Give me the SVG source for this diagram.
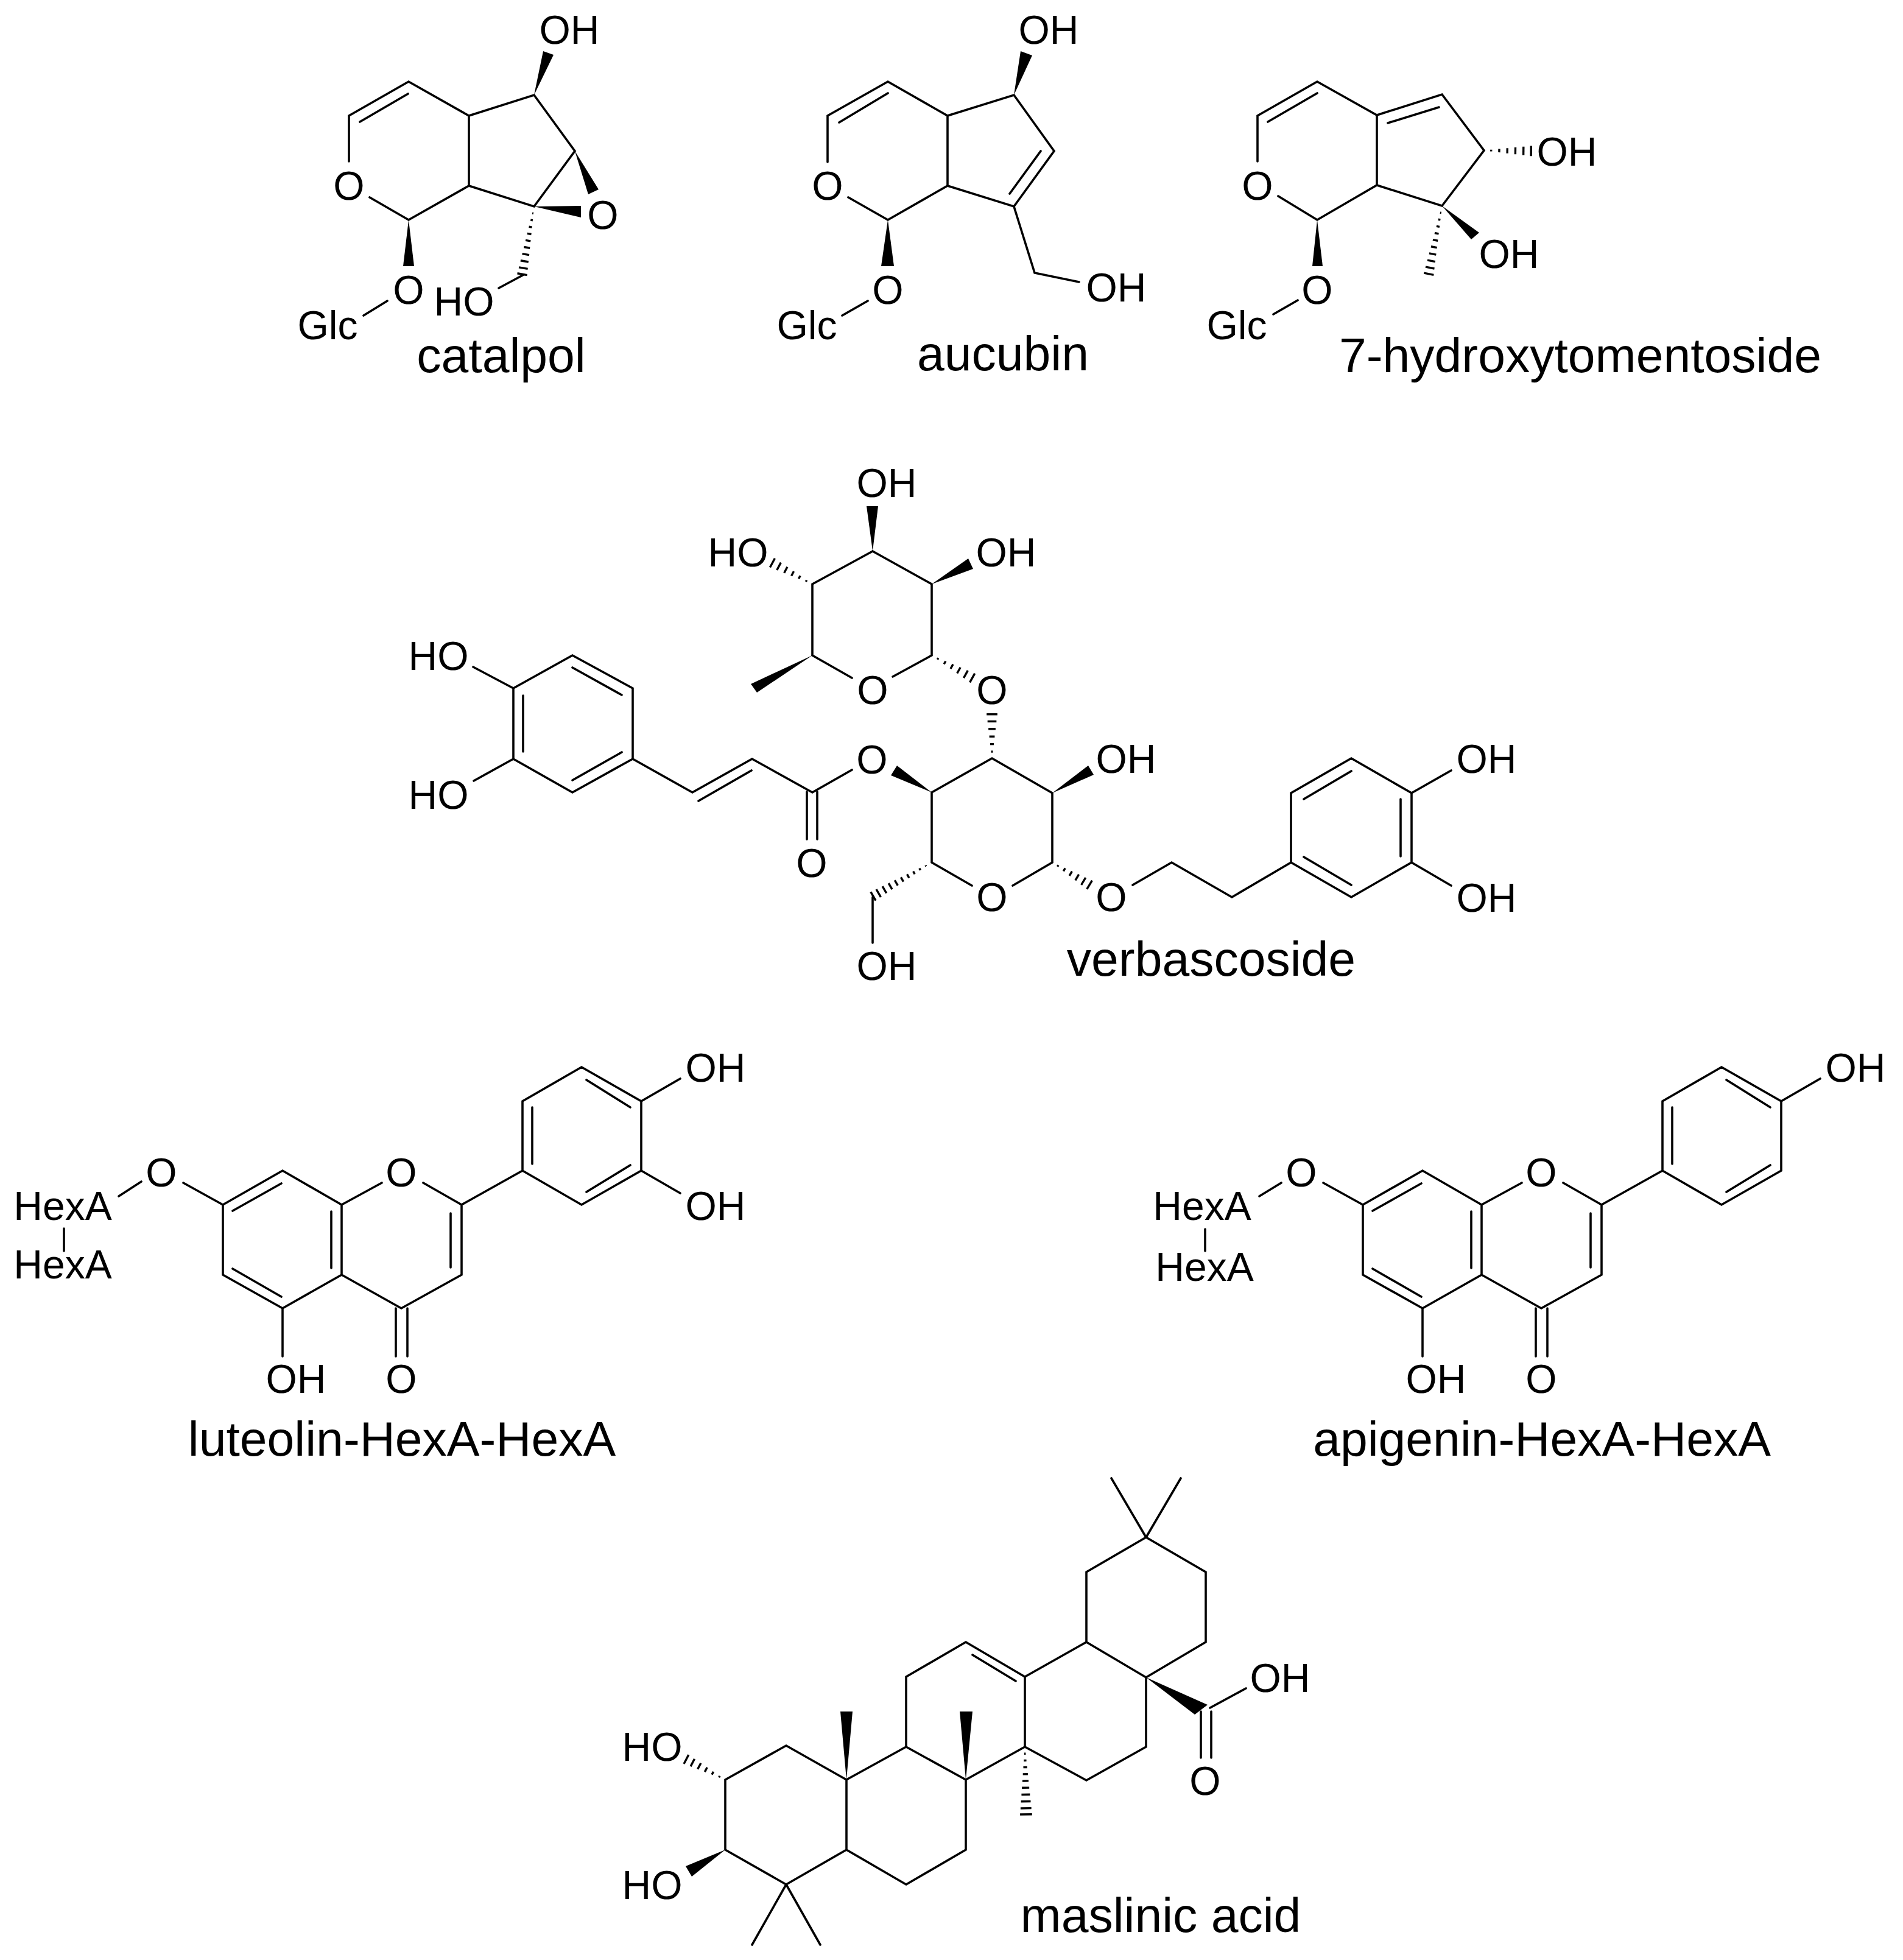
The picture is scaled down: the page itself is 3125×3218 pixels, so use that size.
<svg xmlns="http://www.w3.org/2000/svg" width="3125" height="3218" viewBox="0 0 3125 3218">
<style>
text{font-family:"Liberation Sans",Arial,sans-serif;fill:#000;text-anchor:middle}
.a{font-size:66px}
.n{font-size:80.5px}
.b{fill:none;stroke:#000;stroke-width:3.6;stroke-linecap:round;stroke-linejoin:miter}
.w{fill:#000;stroke:none}
.h line{stroke:#000;stroke-width:3.4;vector-effect:non-scaling-stroke}
</style>
<defs>
<g id="hashL" class="h">
<line x1="10" y1="-1" x2="10" y2="1"/><line x1="20" y1="-1.8" x2="20" y2="1.8"/><line x1="30" y1="-2.6" x2="30" y2="2.6"/><line x1="40" y1="-3.4" x2="40" y2="3.4"/><line x1="50" y1="-4.2" x2="50" y2="4.2"/><line x1="60" y1="-5" x2="60" y2="5"/><line x1="70" y1="-5.8" x2="70" y2="5.8"/><line x1="80" y1="-6.6" x2="80" y2="6.6"/><line x1="90" y1="-7.4" x2="90" y2="7.4"/><line x1="99" y1="-8.2" x2="99" y2="8.2"/>
</g>
<g id="hashS" class="h">
<line x1="15" y1="-1.4" x2="15" y2="1.4"/><line x1="32" y1="-2.8" x2="32" y2="2.8"/><line x1="49" y1="-4.2" x2="49" y2="4.2"/><line x1="66" y1="-5.6" x2="66" y2="5.6"/><line x1="83" y1="-7" x2="83" y2="7"/><line x1="99" y1="-8.4" x2="99" y2="8.4"/>
</g>
<path id="flavone" class="b" d="M366 1978L464 1922L561 1978L561 2093L464 2148L366 2093ZM561 2093L659 2148L758 2093L758 1978L858 1922L858 1808L955 1752L1053 1808L1053 1922L955 1978L858 1922M561 1978L627 1942M695 1942L758 1978M301 1942L366 1978M382 1988L462 1943M544 1989L544 2082M382 2083L462 2129M740 1992L740 2081M874 1818L874 1911M963 1773L1035 1818M963 1957L1035 1913M464 2148L464 2227M650 2148L650 2227M669 2148L669 2227"/>
</defs>

<g id="catalpol">
<path class="b" d="M573 265L573 190L671 134L770 190L877 156L944 248L877 339L770 305L671 361L607 324M770 190L770 305M591 200L670 154M597 518L636 494M860 451L819 473"/>
<polygon class="w" points="877,156 892,84 909,90"/>
<polygon class="w" points="944,248 966,319 983,311"/>
<polygon class="w" points="877,339 954,338 954,357"/>
<polygon class="w" points="671,361 662,437 680,437"/>
<use href="#hashL" transform="translate(877 339) rotate(99.9) scale(1.14 1)"/>
<text class="a" x="935" y="72">OH</text>
<text class="a" x="573" y="328">O</text>
<text class="a" x="990" y="376">O</text>
<text class="a" x="671" y="499">O</text>
<text class="a" x="762" y="518">HO</text>
<text class="a" x="538" y="557">Glc</text>
<text class="n" x="823" y="611">catalpol</text>
</g>

<g id="aucubin">
<path class="b" d="M1359 266L1359 190L1458 134L1556 190L1665 156L1731 248L1665 339L1556 305L1458 361L1393 324M1556 190L1556 305M1378 201L1458 153M1709 248L1658 318M1665 339L1699 448L1772 463M1383 518L1425 494"/>
<polygon class="w" points="1665,156 1676,84 1695,91"/>
<polygon class="w" points="1458,361 1447,437 1468,437"/>
<text class="a" x="1722" y="72">OH</text>
<text class="a" x="1359" y="328">O</text>
<text class="a" x="1458" y="499">O</text>
<text class="a" x="1833" y="495">OH</text>
<text class="a" x="1325" y="557">Glc</text>
<text class="n" x="1647" y="608">aucubin</text>
</g>

<g id="hydroxytomentoside">
<path class="b" d="M2065 265L2065 190L2163 134L2261 189L2368 155L2437 247L2368 338L2261 304L2163 361L2099 322M2261 189L2261 304M2082 200L2163 153M2279 202L2363 176M2091 516L2131 493"/>
<polygon class="w" points="2368,338 2416,393 2429,382"/>
<polygon class="w" points="2163,361 2155,437 2172,437"/>
<use href="#hashS" transform="translate(2437 247) rotate(0.7) scale(0.78 1)"/>
<use href="#hashL" transform="translate(2368 338) rotate(101) scale(1.15 1)"/>
<text class="a" x="2573" y="272">OH</text>
<text class="a" x="2478" y="440">OH</text>
<text class="a" x="2065" y="328">O</text>
<text class="a" x="2163" y="499">O</text>
<text class="a" x="2031" y="557">Glc</text>
<text class="n" x="2595" y="611">7-hydroxytomentoside</text>
</g>

<g id="verbascoside">
<path class="b" d="M1433 905L1530 959L1530 1076L1466 1111M1399 1113L1334 1076L1334 959L1433 905"/>
<path class="b" d="M843 1130L940 1076L1039 1130L1039 1246L940 1301L843 1246ZM843 1130L777 1095M843 1246L778 1282M940 1096L1021 1141M859 1142L859 1234M940 1281L1021 1235M1039 1246L1137 1301L1235 1246L1334 1301L1399 1264M1147 1315L1234 1265M1325 1300L1325 1378M1342 1300L1342 1378"/>
<path class="b" d="M1530 1301L1629 1245L1728 1302L1728 1416L1663 1454M1596 1454L1530 1416L1530 1301M1433 1473L1433 1548"/>
<path class="b" d="M1860 1453L1924 1416L2023 1473L2120 1416L2120 1302L2219 1245L2318 1302L2318 1416L2219 1473L2120 1416M2318 1302L2383 1265M2318 1416L2383 1454M2141 1312L2219 1266M2141 1407L2219 1453M2300 1312L2300 1406"/>
<polygon class="w" points="1433,905 1423,831 1442,831"/>
<polygon class="w" points="1530,959 1590,917 1598,934"/>
<polygon class="w" points="1334,1076 1233,1123 1243,1137"/>
<polygon class="w" points="1530,1301 1463,1273 1473,1257"/>
<polygon class="w" points="1728,1302 1787,1257 1796,1272"/>
<use href="#hashS" transform="translate(1334 959) rotate(-152) scale(0.75 1)"/>
<use href="#hashS" transform="translate(1530 1076) rotate(29) scale(0.77 1)"/>
<use href="#hashS" transform="translate(1629 1245) rotate(-90) scale(0.73 1.05)"/>
<use href="#hashL" transform="translate(1530 1416) rotate(150) scale(1.12 1)"/>
<use href="#hashS" transform="translate(1728 1416) rotate(31) scale(0.72 1)"/>
<text class="a" x="1456" y="816">OH</text>
<text class="a" x="1212" y="930">HO</text>
<text class="a" x="1652" y="930">OH</text>
<text class="a" x="1433" y="1156">O</text>
<text class="a" x="1629" y="1156">O</text>
<text class="a" x="720" y="1100">HO</text>
<text class="a" x="720" y="1328">HO</text>
<text class="a" x="1432" y="1270">O</text>
<text class="a" x="1849" y="1269">OH</text>
<text class="a" x="2441" y="1269">OH</text>
<text class="a" x="2441" y="1497">OH</text>
<text class="a" x="1333" y="1440">O</text>
<text class="a" x="1629" y="1496">O</text>
<text class="a" x="1825" y="1496">O</text>
<text class="a" x="1456" y="1609">OH</text>
<text class="n" x="1989" y="1602">verbascoside</text>
</g>

<g id="luteolin">
<use href="#flavone"/>
<path class="b" d="M1053 1808L1117 1771M1053 1922L1117 1959M195 1964L232 1940M105 2017L105 2054"/>
<text class="a" x="1175" y="1776">OH</text>
<text class="a" x="1175" y="2003">OH</text>
<text class="a" x="659" y="1948">O</text>
<text class="a" x="265" y="1948">O</text>
<text class="a" x="103" y="2003">HexA</text>
<text class="a" x="103" y="2099">HexA</text>
<text class="a" x="486" y="2287">OH</text>
<text class="a" x="659" y="2287">O</text>
<text class="n" x="660" y="2390">luteolin-HexA-HexA</text>
</g>

<g id="apigenin">
<use href="#flavone" transform="translate(1872 0)"/>
<path class="b" d="M2925 1808L2989 1771M2068 1964L2104 1942M1979 2018L1979 2054"/>
<text class="a" x="3047" y="1776">OH</text>
<text class="a" x="2531" y="1948">O</text>
<text class="a" x="2137" y="1948">O</text>
<text class="a" x="1974" y="2003">HexA</text>
<text class="a" x="1978" y="2103">HexA</text>
<text class="a" x="2358" y="2287">OH</text>
<text class="a" x="2531" y="2287">O</text>
<text class="n" x="2532" y="2390">apigenin-HexA-HexA</text>
</g>

<g id="maslinic">
<path class="b" d="M1882 2524L1825 2427M1882 2524L1939 2427M1882 2524L1784 2581L1784 2696L1882 2754L1980 2696L1980 2581L1882 2524M1784 2696L1683 2753L1683 2868L1784 2923L1882 2868L1882 2754M1683 2753L1586 2696L1488 2753L1488 2868L1586 2922L1683 2868M1597 2717L1668 2760M1488 2868L1390 2922L1390 3037L1488 3094L1586 3037L1586 2922M1390 2922L1291 2866L1191 2922L1191 3037L1291 3094L1390 3037M1291 3094L1235 3193M1291 3094L1347 3193M1987 2804L2046 2772M1972 2810L1972 2886M1989 2810L1989 2886"/>
<polygon class="w" points="1390,2922 1380,2810 1400,2810"/>
<polygon class="w" points="1586,2922 1576,2810 1597,2810"/>
<polygon class="w" points="1882,2754 1962,2815 1983,2799"/>
<polygon class="w" points="1191,3037 1126,3064 1136,3081"/>
<use href="#hashL" transform="translate(1683 2868) rotate(89) scale(1.12 1.2)"/>
<use href="#hashS" transform="translate(1191 2922) rotate(-152.4) scale(0.73 1)"/>
<text class="a" x="2102" y="2778">OH</text>
<text class="a" x="1979" y="2947">O</text>
<text class="a" x="1071" y="2891">HO</text>
<text class="a" x="1071" y="3118">HO</text>
<text class="n" x="1906" y="3172">maslinic acid</text>
</g>
</svg>
